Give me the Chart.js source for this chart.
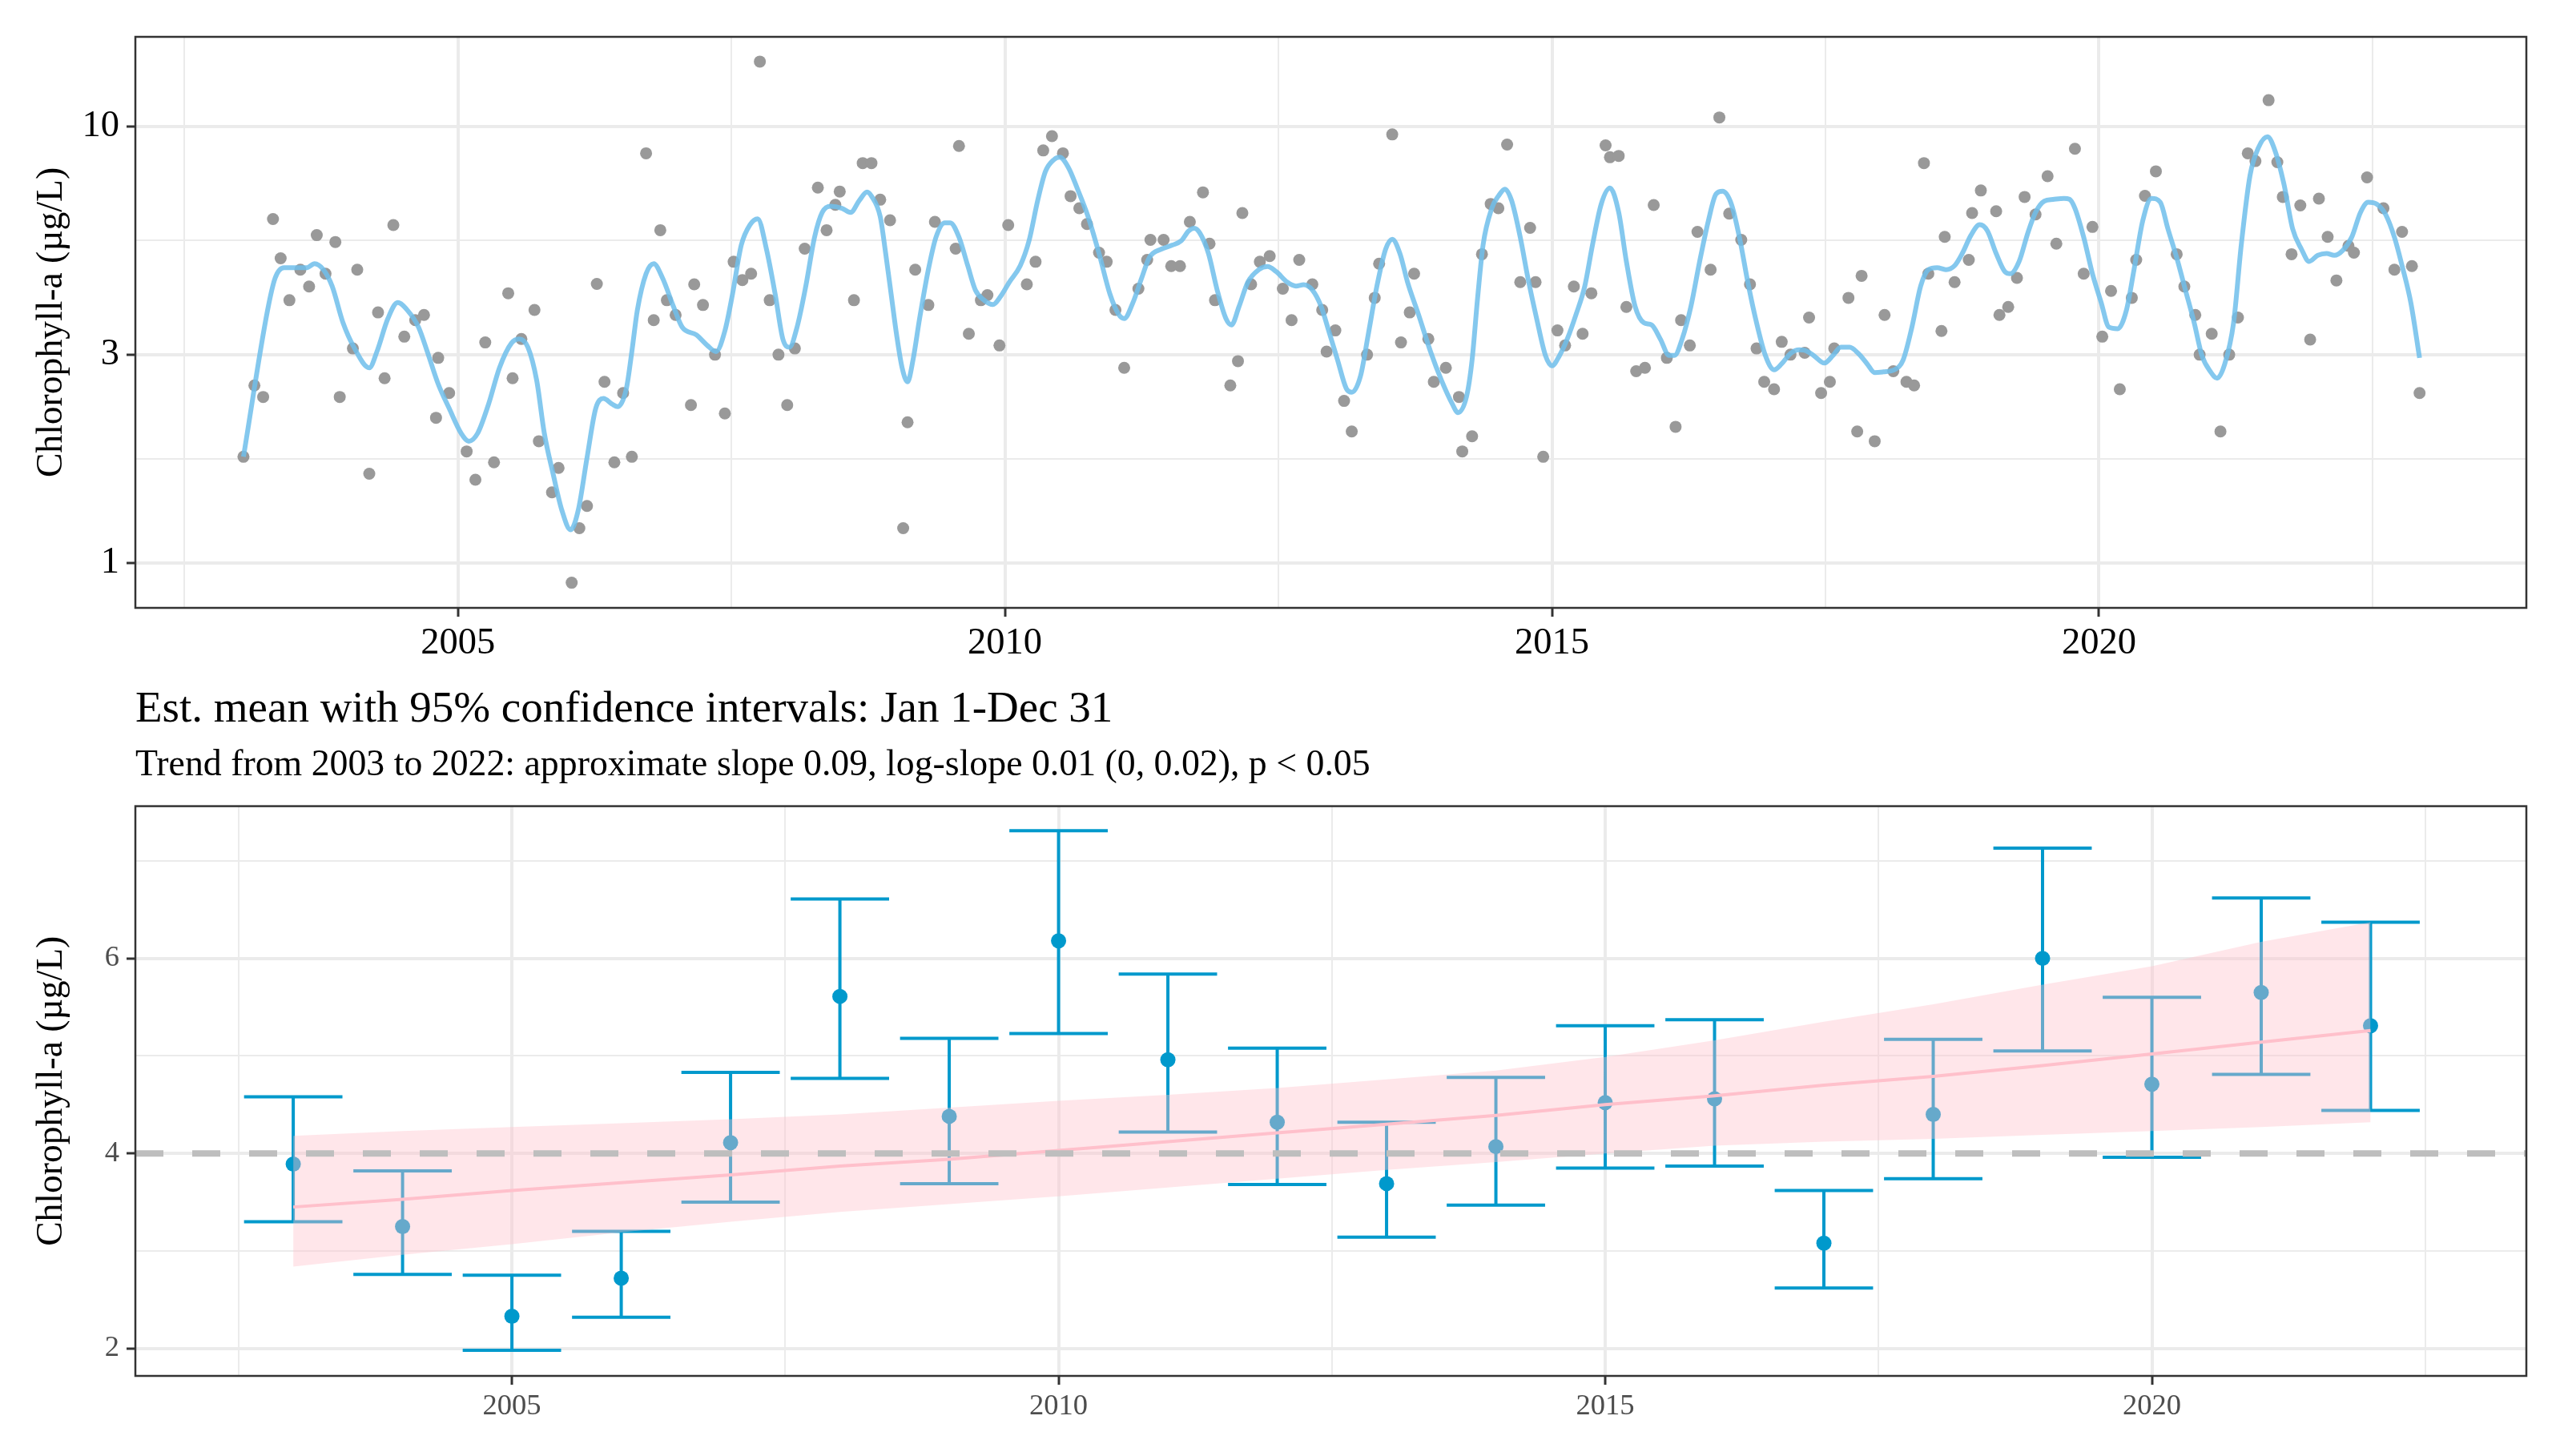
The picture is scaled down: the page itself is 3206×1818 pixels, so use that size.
<!DOCTYPE html>
<html>
<head>
<meta charset="utf-8">
<script src="https://cdn.jsdelivr.net/npm/chart.js@4.4.1/dist/chart.umd.min.js"></script>
<style>
  html, body { margin: 0; padding: 0; background: #fff; overflow: hidden; }
  #topBox { position: absolute; left: 0; top: 0; width: 3206px; height: 830px; }
  #bottomBox { position: absolute; left: 0; top: 830px; width: 3206px; height: 988px; }
</style>
</head>
<body>
<div id="topBox"><canvas id="sampleChart"></canvas></div>
<div id="bottomBox"><canvas id="meanChart"></canvas></div>
<script>
// ---- top panel: samples and smooth fit ----
const sampleYear = [
  2003.04, 2003.14, 2003.22, 2003.31, 2003.38, 2003.46, 2003.56, 2003.64, 2003.71, 2003.79, 2003.88, 2003.92,
  2004.04, 2004.08, 2004.19, 2004.27, 2004.33, 2004.41, 2004.51, 2004.61, 2004.69, 2004.80, 2004.82, 2004.92,
  2005.08, 2005.16, 2005.25, 2005.33, 2005.46, 2005.50, 2005.58, 2005.70, 2005.74, 2005.86, 2005.92,
  2006.04, 2006.11, 2006.18, 2006.27, 2006.34, 2006.43, 2006.51, 2006.59, 2006.72, 2006.79, 2006.85, 2006.91, 2006.99,
  2007.13, 2007.16, 2007.24, 2007.35, 2007.44, 2007.52, 2007.60, 2007.68, 2007.76, 2007.85, 2007.93,
  2008.01, 2008.08, 2008.17, 2008.29, 2008.37, 2008.45, 2008.49, 2008.62, 2008.70, 2008.78, 2008.86, 2008.95,
  2009.07, 2009.11, 2009.18, 2009.30, 2009.36, 2009.55, 2009.58, 2009.67, 2009.78, 2009.84, 2009.95,
  2010.03, 2010.20, 2010.28, 2010.35, 2010.43, 2010.53, 2010.60, 2010.68, 2010.75, 2010.86, 2010.93,
  2011.01, 2011.09, 2011.22, 2011.30, 2011.33, 2011.45, 2011.52, 2011.60, 2011.69, 2011.81, 2011.87, 2011.92,
  2012.06, 2012.13, 2012.17, 2012.25, 2012.33, 2012.42, 2012.54, 2012.62, 2012.69, 2012.81, 2012.90, 2012.94,
  2013.02, 2013.10, 2013.17, 2013.31, 2013.38, 2013.42, 2013.54, 2013.62, 2013.70, 2013.74, 2013.87, 2013.92,
  2014.03, 2014.15, 2014.18, 2014.27, 2014.36, 2014.44, 2014.51, 2014.59, 2014.71, 2014.80, 2014.85, 2014.92,
  2015.05, 2015.12, 2015.20, 2015.28, 2015.36, 2015.49, 2015.53, 2015.61, 2015.68, 2015.77, 2015.85, 2015.93,
  2016.05, 2016.13, 2016.18, 2016.26, 2016.33, 2016.45, 2016.53, 2016.62, 2016.73, 2016.81, 2016.87, 2016.94,
  2017.03, 2017.10, 2017.18, 2017.31, 2017.35, 2017.46, 2017.54, 2017.58, 2017.71, 2017.79, 2017.83, 2017.95,
  2018.04, 2018.12, 2018.24, 2018.31, 2018.40, 2018.44, 2018.56, 2018.59, 2018.68, 2018.81, 2018.84, 2018.92,
  2019.06, 2019.09, 2019.17, 2019.25, 2019.32, 2019.42, 2019.53, 2019.61, 2019.78, 2019.86, 2019.94,
  2020.03, 2020.11, 2020.19, 2020.30, 2020.34, 2020.42, 2020.52, 2020.71, 2020.78, 2020.88, 2020.92,
  2021.03, 2021.11, 2021.19, 2021.27, 2021.36, 2021.43, 2021.55, 2021.63, 2021.68, 2021.76, 2021.84, 2021.93,
  2022.01, 2022.09, 2022.17, 2022.28, 2022.33, 2022.45, 2022.60, 2022.70, 2022.77, 2022.86, 2022.93
];
const sampleChl = [
  1.75, 2.55, 2.40, 6.14, 4.99, 4.00, 4.70, 4.30, 5.64, 4.60, 5.44, 2.40,
  3.10, 4.70, 1.60, 3.75, 2.65, 5.95, 3.30, 3.60, 3.70, 2.15, 2.95, 2.45,
  1.80, 1.55, 3.20, 1.70, 4.15, 2.65, 3.26, 3.80, 1.90, 1.45, 1.65,
  0.90, 1.20, 1.35, 4.36, 2.60, 1.70, 2.45, 1.75, 8.69, 3.60, 5.79, 4.00, 3.70,
  2.30, 4.35, 3.90, 3.00, 2.20, 4.90, 4.45, 4.60, 14.1, 4.00, 3.00,
  2.30, 3.10, 5.25, 7.25, 5.79, 6.62, 7.10, 4.00, 8.25, 8.25, 6.80, 6.10,
  1.20, 2.10, 4.70, 3.90, 6.05, 5.25, 9.03, 3.35, 4.00, 4.11, 3.15,
  5.95, 4.35, 4.90, 8.82, 9.51, 8.69, 6.93, 6.50, 5.98, 5.14, 4.90,
  3.80, 2.80, 4.25, 4.95, 5.50, 5.50, 4.79, 4.79, 6.05, 7.07, 5.39, 4.00,
  2.55, 2.90, 6.34, 4.35, 4.90, 5.05, 4.25, 3.60, 4.95, 4.35, 3.80, 3.05,
  3.41, 2.35, 2.00, 3.00, 4.05, 4.85, 9.60, 3.20, 3.75, 4.60, 3.26, 2.60,
  2.80, 2.40, 1.80, 1.95, 5.10, 6.65, 6.50, 9.10, 4.40, 5.86, 4.40, 1.75,
  3.41, 3.15, 4.30, 3.35, 4.15, 9.06, 8.51, 8.57, 3.86, 2.75, 2.80, 6.61,
  2.95, 2.05, 3.60, 3.15, 5.74, 4.70, 10.5, 6.32, 5.50, 4.35, 3.10, 2.60,
  2.50, 3.21, 3.00, 3.03, 3.65, 2.45, 2.60, 3.10, 4.05, 2.00, 4.55, 1.90,
  3.70, 2.75, 2.60, 2.55, 8.25, 4.60, 3.40, 5.59, 4.40, 4.95, 6.34, 7.14,
  6.40, 3.70, 3.86, 4.50, 6.90, 6.29, 7.70, 5.39, 8.90, 4.60, 5.89,
  3.30, 4.20, 2.50, 4.05, 4.95, 6.94, 7.90, 5.10, 4.30, 3.70, 3.00,
  3.35, 2.00, 3.00, 3.65, 8.69, 8.34, 11.5, 8.29, 6.90, 5.10, 6.60, 3.25,
  6.84, 5.59, 4.44, 5.33, 5.14, 7.65, 6.50, 4.70, 5.74, 4.79, 2.45
];

const fitYear = [
  2003.04, 2003.26, 2003.33, 2003.41, 2003.62, 2003.69, 2003.77, 2003.85, 2003.95, 2004.05, 2004.19, 2004.26,
  2004.36, 2004.45, 2004.54, 2004.64, 2004.72, 2004.82, 2004.92, 2005.03, 2005.10, 2005.18, 2005.28, 2005.38,
  2005.49, 2005.56, 2005.64, 2005.72, 2005.79, 2005.87, 2005.95, 2006.03, 2006.10, 2006.18, 2006.26, 2006.33,
  2006.41, 2006.46, 2006.54, 2006.59, 2006.64, 2006.72, 2006.79, 2006.87, 2006.97, 2007.05, 2007.18, 2007.28,
  2007.36, 2007.44, 2007.51, 2007.59, 2007.67, 2007.74, 2007.82, 2007.90, 2007.97, 2008.03, 2008.10, 2008.18,
  2008.26, 2008.33, 2008.41, 2008.51, 2008.59, 2008.67, 2008.74, 2008.78, 2008.86, 2008.91, 2008.96, 2009.01,
  2009.06, 2009.11, 2009.16, 2009.22, 2009.30, 2009.37, 2009.45, 2009.50, 2009.58, 2009.66, 2009.73, 2009.81,
  2009.89, 2009.96, 2010.04, 2010.14, 2010.22, 2010.30, 2010.37, 2010.45, 2010.50, 2010.58, 2010.66, 2010.76,
  2010.86, 2010.96, 2011.04, 2011.09, 2011.17, 2011.25, 2011.32, 2011.43, 2011.53, 2011.61, 2011.68, 2011.73,
  2011.78, 2011.86, 2011.94, 2012.02, 2012.07, 2012.14, 2012.22, 2012.32, 2012.40, 2012.48, 2012.58, 2012.66,
  2012.73, 2012.81, 2012.89, 2012.96, 2013.04, 2013.12, 2013.17, 2013.25, 2013.32, 2013.40, 2013.48, 2013.54,
  2013.61, 2013.68, 2013.78, 2013.89, 2013.99, 2014.09, 2014.14, 2014.22, 2014.27, 2014.32, 2014.37, 2014.45,
  2014.51, 2014.57, 2014.63, 2014.71, 2014.78, 2014.86, 2014.94, 2015.00, 2015.07, 2015.14, 2015.22, 2015.30,
  2015.37, 2015.45, 2015.53, 2015.61, 2015.68, 2015.76, 2015.84, 2015.91, 2015.99, 2016.07, 2016.12, 2016.19,
  2016.27, 2016.35, 2016.43, 2016.50, 2016.56, 2016.64, 2016.72, 2016.79, 2016.87, 2016.95, 2017.03, 2017.10,
  2017.18, 2017.26, 2017.31, 2017.39, 2017.49, 2017.57, 2017.64, 2017.72, 2017.80, 2017.88, 2017.95, 2018.03,
  2018.13, 2018.21, 2018.29, 2018.37, 2018.44, 2018.52, 2018.60, 2018.68, 2018.75, 2018.83, 2018.91, 2018.98,
  2019.06, 2019.14, 2019.19, 2019.27, 2019.35, 2019.42, 2019.50, 2019.58, 2019.68, 2019.73, 2019.78, 2019.86,
  2019.94, 2020.02, 2020.09, 2020.17, 2020.25, 2020.32, 2020.40, 2020.48, 2020.56, 2020.63, 2020.71, 2020.79,
  2020.87, 2020.94, 2021.02, 2021.08, 2021.15, 2021.23, 2021.30, 2021.38, 2021.46, 2021.54, 2021.61, 2021.69,
  2021.77, 2021.85, 2021.92, 2022.00, 2022.08, 2022.15, 2022.23, 2022.31, 2022.39, 2022.46, 2022.54, 2022.62,
  2022.70, 2022.77, 2022.85, 2022.93
];
const fitChl = [
  1.75, 3.79, 4.50, 4.75, 4.75, 4.85, 4.70, 4.31, 3.55, 3.12, 2.80, 3.05,
  3.63, 3.95, 3.79, 3.47, 3.05, 2.57, 2.26, 1.98, 1.90, 1.98, 2.31, 2.80,
  3.19, 3.26, 3.12, 2.62, 1.98, 1.60, 1.32, 1.19, 1.32, 1.74, 2.26, 2.38,
  2.31, 2.28, 2.51, 3.05, 3.79, 4.60, 4.85, 4.50, 3.87, 3.47, 3.33, 3.15,
  3.05, 3.40, 4.13, 5.35, 5.96, 6.15, 5.24, 4.13, 3.26, 3.12, 3.47, 4.31,
  5.58, 6.36, 6.57, 6.50, 6.36, 6.78, 7.08, 6.93, 6.22, 5.12, 4.13, 3.33,
  2.80, 2.60, 2.92, 3.63, 4.70, 5.58, 6.02, 6.02, 5.58, 4.80, 4.22, 4.00,
  3.91, 4.08, 4.40, 4.80, 5.47, 6.78, 7.89, 8.41, 8.51, 8.06, 7.23, 6.22,
  5.12, 4.13, 3.71, 3.63, 3.95, 4.50, 5.01, 5.24, 5.35, 5.47, 5.77, 5.85,
  5.71, 5.12, 4.22, 3.63, 3.51, 3.87, 4.40, 4.70, 4.78, 4.65, 4.40, 4.31,
  4.34, 4.22, 3.87, 3.40, 2.92, 2.51, 2.46, 2.68, 3.33, 4.31, 5.24, 5.52,
  5.12, 4.40, 3.71, 3.05, 2.62, 2.31, 2.21, 2.41, 2.92, 4.04, 5.35, 6.50,
  6.93, 7.19, 6.78, 5.58, 4.50, 3.63, 2.99, 2.83, 2.99, 3.26, 3.71, 4.31,
  5.35, 6.64, 7.23, 6.36, 4.91, 3.87, 3.55, 3.51, 3.26, 2.99, 2.99, 3.26,
  3.87, 4.91, 6.09, 7.01, 7.11, 6.64, 5.47, 4.40, 3.55, 2.99, 2.77, 2.86,
  3.02, 3.08, 3.07, 2.99, 2.87, 2.99, 3.12, 3.12, 3.02, 2.86, 2.73, 2.74,
  2.77, 2.92, 3.47, 4.31, 4.70, 4.75, 4.70, 4.80, 5.12, 5.64, 5.96, 5.77,
  5.12, 4.65, 4.60, 4.91, 5.71, 6.36, 6.75, 6.81, 6.85, 6.82, 6.50, 5.58,
  4.60, 3.95, 3.47, 3.44, 3.79, 4.70, 6.09, 6.85, 6.71, 5.83, 5.01, 4.22,
  3.55, 2.99, 2.74, 2.65, 2.86, 3.55, 5.35, 7.72, 8.98, 9.48, 8.79, 7.39,
  5.83, 5.24, 4.91, 5.07, 5.12, 5.07, 5.21, 5.58, 6.36, 6.71, 6.64, 6.29,
  5.58, 4.80, 3.95, 2.95
];

// ---- bottom panel: yearly estimates ----
const estYear  = [2003, 2004, 2005, 2006, 2007, 2008, 2009, 2010, 2011, 2012, 2013, 2014, 2015, 2016, 2017, 2018, 2019, 2020, 2021, 2022];
const estMean  = [3.89, 3.25, 2.33, 2.72, 4.11, 5.61, 4.38, 6.18, 4.96, 4.32, 3.69, 4.07, 4.52, 4.56, 3.08, 4.40, 6.00, 4.71, 5.65, 5.31];
const ciUpper  = [4.58, 3.82, 2.75, 3.20, 4.83, 6.61, 5.18, 7.31, 5.84, 5.08, 4.32, 4.78, 5.31, 5.37, 3.62, 5.17, 7.13, 5.60, 6.62, 6.37];
const ciLower  = [3.30, 2.76, 1.98, 2.32, 3.50, 4.77, 3.69, 5.23, 4.22, 3.68, 3.14, 3.47, 3.85, 3.87, 2.62, 3.74, 5.05, 3.96, 4.81, 4.44];
const trendFit = [3.45, 3.53, 3.62, 3.70, 3.78, 3.87, 3.94, 4.03, 4.12, 4.21, 4.30, 4.39, 4.50, 4.59, 4.70, 4.79, 4.90, 5.02, 5.14, 5.26];
const bandUpper = [4.18, 4.23, 4.27, 4.31, 4.35, 4.40, 4.47, 4.54, 4.60, 4.67, 4.76, 4.85, 4.99, 5.16, 5.35, 5.53, 5.73, 5.92, 6.17, 6.37];
const bandLower = [2.84, 2.96, 3.07, 3.19, 3.30, 3.40, 3.48, 3.56, 3.65, 3.74, 3.83, 3.91, 4.00, 4.08, 4.12, 4.15, 4.19, 4.23, 4.27, 4.32];
const refLevel = 4;

// ---- axis breaks ----
const xMajor = [2005, 2010, 2015, 2020];
const xMinor = [2002.5, 2007.5, 2012.5, 2017.5, 2022.5];
const topYMajor = [1, 3, 10];
const topYMinor = [1.73, 5.48];
const botYMajor = [2, 4, 6];
const botYMinor = [3, 5, 7];

const yTitle = 'Chlorophyll-a (µg/L)';
const mainTitle = 'Est. mean with 95% confidence intervals: Jan 1-Dec 31';
const subTitle = 'Trend from 2003 to 2022: approximate slope 0.09, log-slope 0.01 (0, 0.02), p < 0.05';

Chart.defaults.font.family = "'Liberation Serif', 'Times New Roman', serif";
Chart.defaults.color = '#000';

const frame = {
  id: 'frame',
  afterDraw(chart) {
    const a = chart.chartArea;
    const c = chart.ctx;
    c.save();
    c.strokeStyle = '#333333';
    c.lineWidth = 2.5;
    c.strokeRect(a.left, a.top, a.right - a.left, a.bottom - a.top);
    c.restore();
  }
};

function breaks(major, minor) {
  return major.concat(minor).sort((a, b) => a - b).map(v => ({ value: v }));
}

function axisX(min, max, fontSize, color, height) {
  return {
    type: 'linear', position: 'bottom', min: min, max: max,
    afterBuildTicks(s) { s.ticks = breaks(xMajor, xMinor); },
    afterFit(s) { s.height = height; },
    border: { display: false },
    grid: {
      color: '#EBEBEB',
      lineWidth: c => xMajor.includes(c.tick.value) ? 4 : 2,
      tickColor: c => xMajor.includes(c.tick.value) ? '#333333' : 'rgba(0,0,0,0)',
      tickLength: 11, tickWidth: 3
    },
    ticks: {
      autoSkip: false, maxRotation: 0, padding: 6, color: color,
      font: { size: fontSize },
      callback: v => xMajor.includes(v) ? String(v) : ''
    }
  };
}

function axisY(type, min, max, major, minor, fontSize, color) {
  return {
    type: type, min: min, max: max,
    afterBuildTicks(s) { s.ticks = breaks(major, minor); },
    afterFit(s) { s.width = 169; },
    border: { display: false },
    grid: {
      color: '#EBEBEB',
      lineWidth: c => major.includes(c.tick.value) ? 4 : 2,
      tickColor: c => major.includes(c.tick.value) ? '#333333' : 'rgba(0,0,0,0)',
      tickLength: 11, tickWidth: 3
    },
    ticks: {
      autoSkip: false, padding: 9, color: color,
      font: { size: fontSize },
      callback: v => major.includes(v) ? String(v) : ''
    },
    title: {
      display: true, text: yTitle, color: '#000',
      font: { size: 45.6, lineHeight: 1 },
      padding: { top: 42, bottom: 0 }
    }
  };
}

const quiet = {
  legend: { display: false },
  tooltip: { enabled: false }
};

// top panel
new Chart(document.getElementById('sampleChart'), {
  type: 'scatter',
  data: {
    datasets: [
      {
        type: 'line',
        data: fitYear.map((x, i) => ({ x: x, y: fitChl[i] })),
        borderColor: 'rgba(110, 190, 235, 0.85)',
        borderWidth: 6,
        pointRadius: 0,
        cubicInterpolationMode: 'monotone',
        order: 1
      },
      {
        data: sampleYear.map((x, i) => ({ x: x, y: sampleChl[i] })),
        backgroundColor: '#999999',
        borderWidth: 0,
        pointRadius: 7.5,
        order: 2
      }
    ]
  },
  options: {
    responsive: true, maintainAspectRatio: false, animation: false, events: [],
    layout: { padding: { top: 46, right: 52, bottom: 0, left: 0 } },
    scales: {
      x: axisX(2002.052, 2023.906, 46.5, '#000', 71),
      y: axisY('logarithmic', 0.788, 16.07, topYMajor, topYMinor, 46.5, '#000')
    },
    plugins: quiet
  },
  plugins: [frame]
});

// bottom panel
const capHalf = 0.45;
const errSegments = [];
estYear.forEach((x, i) => {
  errSegments.push({ x: x, y: ciLower[i] }, { x: x, y: ciUpper[i] }, { x: x, y: null });
  errSegments.push({ x: x - capHalf, y: ciUpper[i] }, { x: x + capHalf, y: ciUpper[i] }, { x: x, y: null });
  errSegments.push({ x: x - capHalf, y: ciLower[i] }, { x: x + capHalf, y: ciLower[i] }, { x: x, y: null });
});

new Chart(document.getElementById('meanChart'), {
  type: 'scatter',
  data: {
    datasets: [
      {
        type: 'line',
        data: errSegments,
        borderColor: '#0099CC',
        borderWidth: 4,
        pointRadius: 0,
        spanGaps: false,
        order: 6
      },
      {
        data: estYear.map((x, i) => ({ x: x, y: estMean[i] })),
        backgroundColor: '#0099CC',
        borderWidth: 0,
        pointRadius: 9.5,
        order: 5
      },
      {
        type: 'line',
        data: estYear.map((x, i) => ({ x: x, y: bandLower[i] })),
        borderColor: 'rgba(0,0,0,0)',
        borderWidth: 0,
        pointRadius: 0,
        fill: false,
        order: 4
      },
      {
        type: 'line',
        data: estYear.map((x, i) => ({ x: x, y: bandUpper[i] })),
        borderColor: 'rgba(0,0,0,0)',
        borderWidth: 0,
        pointRadius: 0,
        backgroundColor: 'rgba(255, 192, 203, 0.4)',
        fill: '-1',
        order: 3
      },
      {
        type: 'line',
        data: estYear.map((x, i) => ({ x: x, y: trendFit[i] })),
        borderColor: 'rgb(255, 192, 203)',
        borderWidth: 4,
        pointRadius: 0,
        order: 2
      },
      {
        type: 'line',
        data: [{ x: 2001.556, y: refLevel }, { x: 2023.425, y: refLevel }],
        borderColor: '#BEBEBE',
        borderWidth: 8,
        borderDash: [35, 36],
        pointRadius: 0,
        order: 1
      }
    ]
  },
  options: {
    responsive: true, maintainAspectRatio: false, animation: false, events: [],
    layout: { padding: { top: 0, right: 52, bottom: 0, left: 0 } },
    scales: {
      x: axisX(2001.556, 2023.425, 36.5, '#4D4D4D', 100),
      y: axisY('linear', 1.718, 7.561, botYMajor, botYMinor, 36.5, '#4D4D4D')
    },
    plugins: {
      legend: { display: false },
      tooltip: { enabled: false },
      title: {
        display: true, text: mainTitle, align: 'start', fullSize: false, color: '#000',
        font: { size: 55, weight: 'normal', lineHeight: 1 },
        padding: { top: 29.3, bottom: 0 }
      },
      subtitle: {
        display: true, text: subTitle, align: 'start', fullSize: false, color: '#000',
        font: { size: 45.8, weight: 'normal', lineHeight: 1 },
        padding: { top: 19.2, bottom: 27.3 }
      }
    }
  },
  plugins: [frame]
});
</script>
</body>
</html>
